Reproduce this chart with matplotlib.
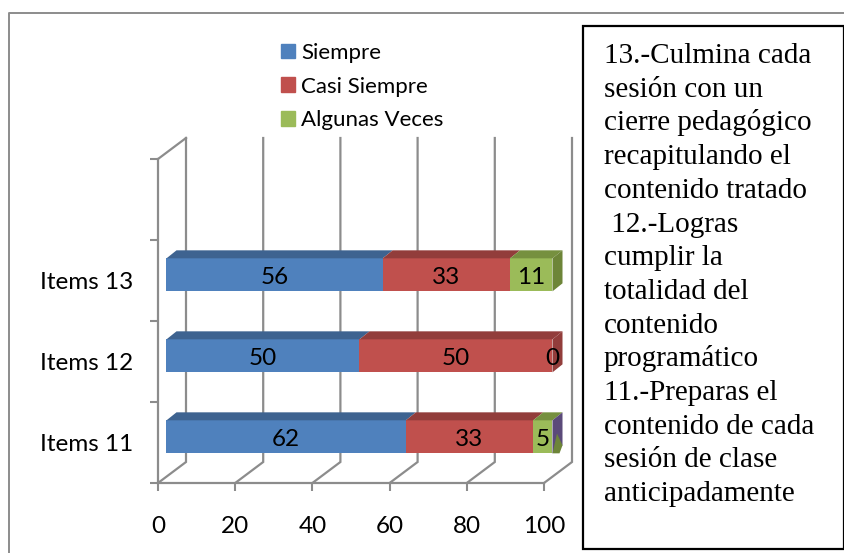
import numpy as np
import matplotlib
matplotlib.use("Agg")
import matplotlib.pyplot as plt
from matplotlib.patches import Patch, Polygon, Rectangle
from matplotlib.lines import Line2D

W, H = 845, 553

items = ["Items 11", "Items 12", "Items 13"]
siempre = [62, 50, 56]
casi_siempre = [33, 50, 33]
algunas_veces = [5, 0, 11]
series_names = ["Siempre", "Casi Siempre", "Algunas Veces"]
x_ticks = [0, 20, 40, 60, 80, 100]
y_ticks = [0, 1, 2, 3, 4]
box_lines = [
    "13.-Culmina cada", "sesión con un", "cierre pedagógico", "recapitulando el",
    "contenido tratado", " 12.-Logras", "cumplir la", "totalidad del", "contenido",
    "programático", "11.-Preparas el", "contenido de cada", "sesión de clase",
    "anticipadamente",
]

front = ["#4f81bd", "#c0504d", "#9bbb59"]
top = ["#3e6390", "#923d3b", "#76903f"]
side = ["#3e6390", "#923d3b", "#6d8538"]
purple = "#5b4a7a"
grid = "#8c8c8c"

plt.rcParams["font.family"] = ["Lato", "DejaVu Sans"]

fig = plt.figure(figsize=(W / 100, H / 100), dpi=100)
ax = fig.add_axes([158 / W, 1 - 483 / H, 386 / W, 324 / H])
ax.set_xlim(0, 100)
ax.set_ylim(0, 4)
ax.patch.set_alpha(0)

# px to data units, the fake 3D is built from these
ux = 100 / 386
uy = 4 / 324
wall_dx = 28 * ux
wall_dy = 21 * uy
bar_x = 8.5 * ux
bar_dy = 0.07
depth_x = 10 * ux
depth_y = 8 * uy
bar_h = 33 * uy

# walls
for t in x_ticks:
    ax.plot([t, t + wall_dx, t + wall_dx], [0, wall_dy, 4 + wall_dy], color=grid, lw=1.6,
            clip_on=False, zorder=1, solid_joinstyle="miter")
ax.plot([0, wall_dx], [4, 4 + wall_dy], color=grid, lw=1.6, clip_on=False, zorder=1)

ypos = np.arange(len(items)) + 0.5
left = np.zeros(len(items))
for k, vals in enumerate([siempre, casi_siempre, algunas_veces]):
    vals = np.array(vals, dtype=float)
    ax.barh(ypos + bar_dy, vals, height=bar_h, left=left + bar_x, color=front[k],
            clip_on=False, zorder=3)
    for y, l, v in zip(ypos + bar_dy, left + bar_x, vals):
        ax.text(l + v / 2, y - 2.5 * uy, str(int(v)), ha="center", va="center", fontsize=17.5,
                color="black", zorder=6, clip_on=False)
        if v == 0:
            continue
        yt = y + bar_h / 2
        ax.add_patch(Polygon([(l, yt), (l + v, yt), (l + v + depth_x, yt + depth_y), (l + depth_x, yt + depth_y)],
                             closed=True, color=top[k], lw=0, clip_on=False, zorder=3))
    left = left + vals

# right end of each bar, last series visible there
end = left + bar_x
side_colors = [purple, side[1], side[2]]
for y, e, c in zip(ypos + bar_dy, end, side_colors):
    yb, yt = y - bar_h / 2, y + bar_h / 2
    ax.add_patch(Polygon([(e, yb), (e, yt), (e + depth_x, yt + depth_y), (e + depth_x, yb + depth_y)],
                         closed=True, color=c, lw=0, clip_on=False, zorder=3))
# small green patch on the purple end
y, e = ypos[0] + bar_dy, end[0]
yb = y - bar_h / 2
ax.add_patch(Polygon([(e, yb), (e + depth_x * 0.45, yb + bar_h * 0.6), (e + depth_x, yb + depth_y), (e + depth_x * 0.7, yb)],
                     closed=True, color=side[2], lw=0, clip_on=False, zorder=4))

ax.set_xticks(x_ticks)
ax.set_yticks(y_ticks)
ax.set_yticks(ypos, minor=True)
ax.set_yticklabels([])
ax.set_yticklabels(items, minor=True)
ax.tick_params(axis="y", which="minor", length=0, pad=18, labelsize=17.5)
ax.tick_params(axis="y", which="major", length=6, width=1.5, color=grid)
ax.tick_params(axis="x", length=6, width=1.5, color=grid, pad=18, labelsize=17.5)
for s in ["top", "right"]:
    ax.spines[s].set_visible(False)
for s in ["left", "bottom"]:
    ax.spines[s].set_color(grid)
    ax.spines[s].set_linewidth(1.6)

handles = [Patch(color=c, label=n) for c, n in zip(front, series_names)]
leg = fig.legend(handles=handles, loc="upper left", bbox_to_anchor=(281 / W, 1 - 43 / H), frameon=False,
                 fontsize=16, handlelength=0.63, handleheight=0.63, handletextpad=0.27,
                 labelspacing=0.61, borderpad=0, borderaxespad=0)

# outer chart frame runs off the image on the right and bottom
fig.add_artist(Line2D([9 / W, 9 / W, 1], [0, 1 - 13 / H, 1 - 13 / H], color=grid, lw=1.4))

# text box
fig.add_artist(Rectangle((583 / W, 1 - 549 / H), 261 / W, 523 / H, fill=True, facecolor="white",
                         edgecolor="black", lw=1.6, transform=fig.transFigure))
for i, line in enumerate(box_lines):
    fig.text(604 / W, 1 - (63 + i * 33.7) / H, line, family="Liberation Serif", fontsize=21,
             color="black", va="baseline", ha="left")

fig.savefig("out.png", dpi=100, facecolor="white")
